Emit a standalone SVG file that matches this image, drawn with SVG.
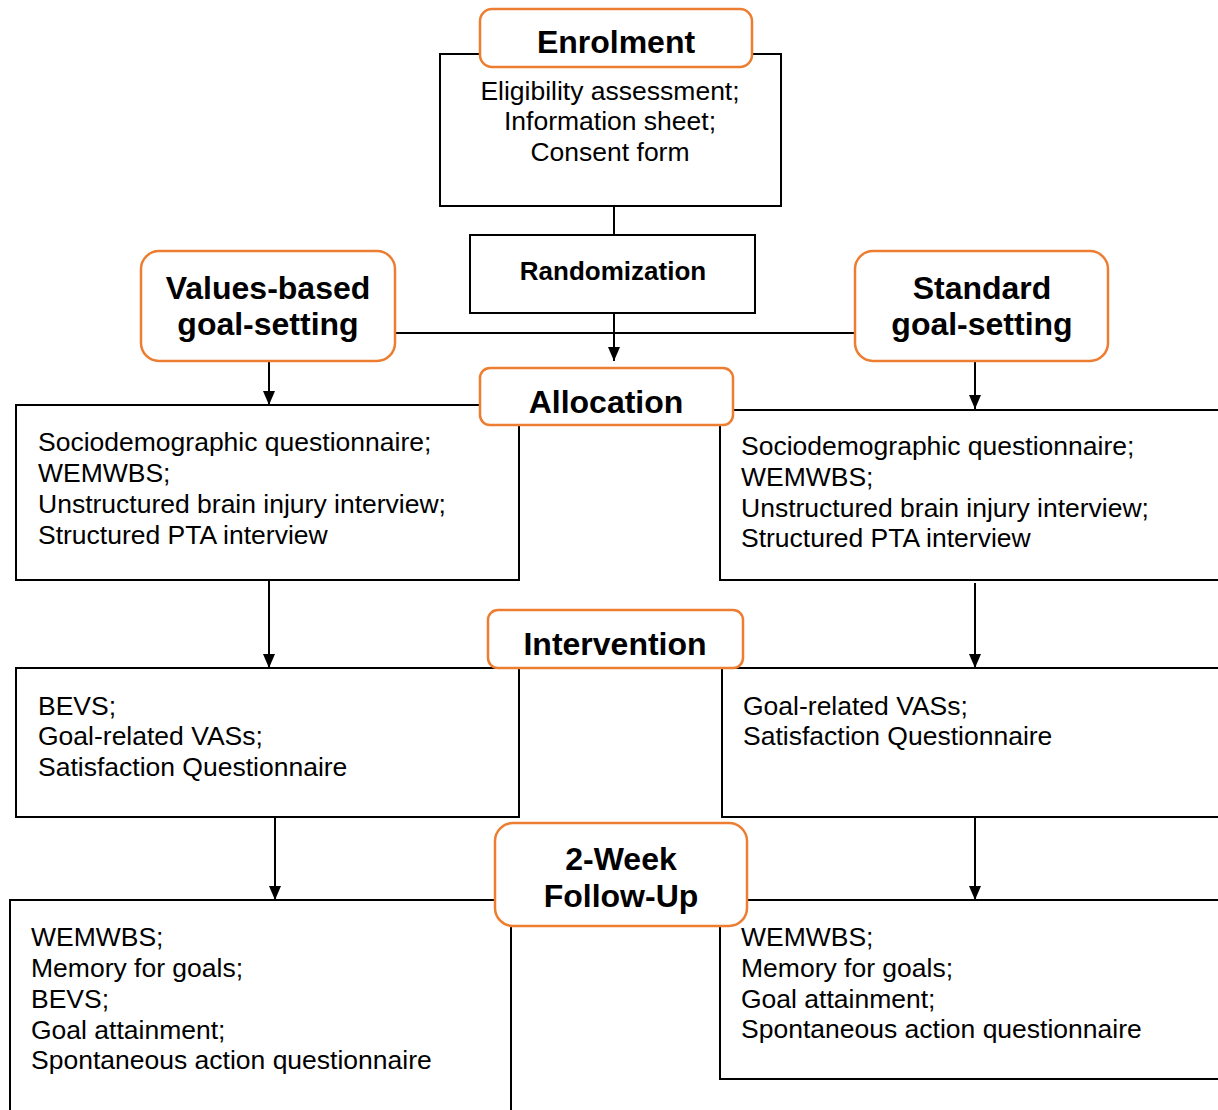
<svg xmlns="http://www.w3.org/2000/svg" width="1218" height="1110" viewBox="0 0 1218 1110">
<defs>
<style>
.box{fill:#fff;stroke:#000;stroke-width:2}
.phase{fill:#fff;stroke:#ED7D31;stroke-width:2.5}
.t{font-family:"Liberation Sans",Arial,sans-serif;font-size:26.5px;fill:#000}
.h{font-family:"Liberation Sans",Arial,sans-serif;font-size:32px;font-weight:bold;fill:#000;text-anchor:middle}
.c{text-anchor:middle}
.ln{stroke:#000;stroke-width:2;fill:none}
</style>
<marker id="ah" viewBox="0 0 14 12" refX="14" refY="6" markerWidth="14" markerHeight="12" markerUnits="userSpaceOnUse" orient="auto">
<path d="M0,0 L14,6 L0,12 Z" fill="#000"/>
</marker>
</defs>
<rect width="1218" height="1110" fill="#fff"/>

<g id="connectors">
<line class="ln" x1="614" y1="206" x2="614" y2="235"/>
<line class="ln" x1="614" y1="313" x2="614" y2="361" marker-end="url(#ah)"/>
<line class="ln" x1="395" y1="333" x2="855" y2="333"/>
<line class="ln" x1="269" y1="361" x2="269" y2="405" marker-end="url(#ah)"/>
<line class="ln" x1="975" y1="361" x2="975" y2="409" marker-end="url(#ah)"/>
<line class="ln" x1="269" y1="580" x2="269" y2="668" marker-end="url(#ah)"/>
<line class="ln" x1="975" y1="583" x2="975" y2="668" marker-end="url(#ah)"/>
<line class="ln" x1="275" y1="817" x2="275" y2="900" marker-end="url(#ah)"/>
<line class="ln" x1="975" y1="817" x2="975" y2="900" marker-end="url(#ah)"/>
</g>

<g id="enrolment-box">
<rect class="box" x="440" y="54" width="341" height="152"/>
<text class="t c" x="610" y="100">Eligibility assessment;</text>
<text class="t c" x="610" y="130">Information sheet;</text>
<text class="t c" x="610" y="161">Consent form</text>
</g>
<g id="enrolment">
<rect class="phase" x="480" y="9" width="272" height="58" rx="12"/>
<text class="h" x="616" y="53">Enrolment</text>
</g>

<g id="randomization">
<rect class="box" x="470" y="235" width="285" height="78"/>
<text class="h" x="613" y="280" style="font-size:26px">Randomization</text>
</g>

<g id="values-based">
<rect class="phase" x="141" y="251" width="254" height="110" rx="18"/>
<text class="h" x="268" y="299">Values-based</text>
<text class="h" x="268" y="335">goal-setting</text>
</g>
<g id="standard">
<rect class="phase" x="855" y="251" width="253" height="110" rx="18"/>
<text class="h" x="982" y="299">Standard</text>
<text class="h" x="982" y="335">goal-setting</text>
</g>

<g id="baseline-left">
<rect class="box" x="16" y="405" width="503" height="175"/>
<text class="t" x="38" y="451">Sociodemographic questionnaire;</text>
<text class="t" x="38" y="482">WEMWBS;</text>
<text class="t" x="38" y="513">Unstructured brain injury interview;</text>
<text class="t" x="38" y="544">Structured PTA interview</text>
</g>
<g id="baseline-right">
<rect class="box" x="720" y="410" width="510" height="170"/>
<text class="t" x="741" y="455">Sociodemographic questionnaire;</text>
<text class="t" x="741" y="486">WEMWBS;</text>
<text class="t" x="741" y="517">Unstructured brain injury interview;</text>
<text class="t" x="741" y="547">Structured PTA interview</text>
</g>
<g id="allocation">
<rect class="phase" x="480" y="368" width="253" height="57" rx="10"/>
<text class="h" x="606" y="413">Allocation</text>
</g>

<g id="intervention-left">
<rect class="box" x="16" y="668" width="503" height="149"/>
<text class="t" x="38" y="715">BEVS;</text>
<text class="t" x="38" y="745">Goal-related VASs;</text>
<text class="t" x="38" y="776">Satisfaction Questionnaire</text>
</g>
<g id="intervention-right">
<rect class="box" x="722" y="668" width="508" height="149"/>
<text class="t" x="743" y="715">Goal-related VASs;</text>
<text class="t" x="743" y="745">Satisfaction Questionnaire</text>
</g>
<g id="intervention">
<rect class="phase" x="488" y="610" width="255" height="58" rx="10"/>
<text class="h" x="615" y="655">Intervention</text>
</g>

<g id="followup-left">
<rect class="box" x="10" y="900" width="501" height="220"/>
<text class="t" x="31" y="946">WEMWBS;</text>
<text class="t" x="31" y="977">Memory for goals;</text>
<text class="t" x="31" y="1008">BEVS;</text>
<text class="t" x="31" y="1039">Goal attainment;</text>
<text class="t" x="31" y="1069">Spontaneous action questionnaire</text>
</g>
<g id="followup-right">
<rect class="box" x="720" y="900" width="510" height="179"/>
<text class="t" x="741" y="946">WEMWBS;</text>
<text class="t" x="741" y="977">Memory for goals;</text>
<text class="t" x="741" y="1008">Goal attainment;</text>
<text class="t" x="741" y="1038">Spontaneous action questionnaire</text>
</g>
<g id="followup">
<rect class="phase" x="495" y="823" width="252" height="103" rx="18"/>
<text class="h" x="621" y="870">2-Week</text>
<text class="h" x="621" y="907">Follow-Up</text>
</g>
</svg>
